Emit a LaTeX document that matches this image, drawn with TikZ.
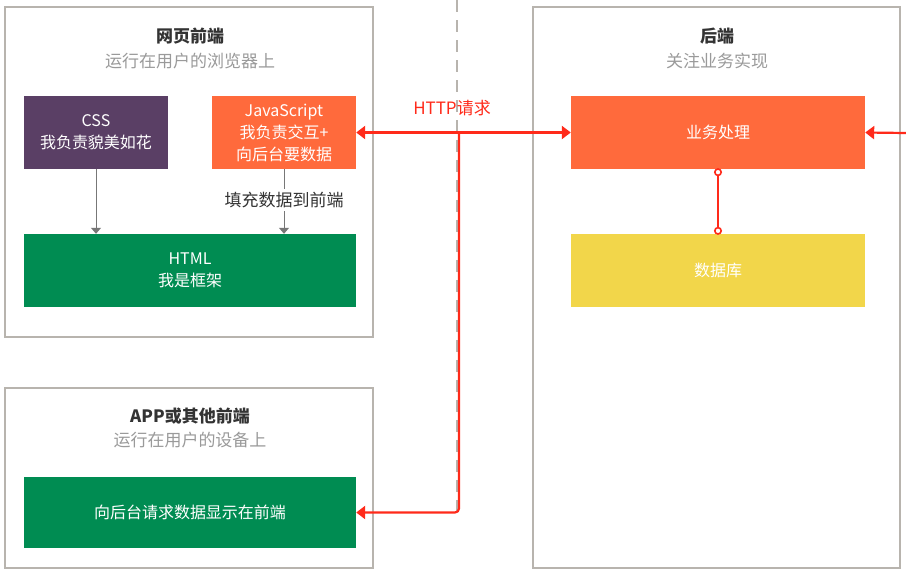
\documentclass[tikz,border=0pt]{standalone}
\usepackage{fontspec}
\setmainfont{Noto Sans CJK SC}
\usetikzlibrary{arrows.meta}
\definecolor{cssc}{HTML}{5A3F65}
\definecolor{orangec}{HTML}{FF6A3C}
\definecolor{greenc}{HTML}{008C52}
\definecolor{yellowc}{HTML}{F2D64A}
\definecolor{redc}{HTML}{FF2A1A}
\definecolor{framec}{HTML}{B8B4AE}
\definecolor{subc}{HTML}{9A9A9A}
\definecolor{titlec}{HTML}{333333}
\definecolor{arrc}{HTML}{777777}
\tikzset{
  frame/.style={draw=framec, line width=1.5pt, fill=white, inner sep=0pt},
  block/.style={inner sep=0pt, text=white, align=center, font=\fontsize{16}{22}\selectfont},
  ttl/.style={text=titlec, font=\fontsize{17}{20}\selectfont\bfseries, inner sep=0pt},
  subttl/.style={text=subc, font=\fontsize{17}{20}\selectfont, inner sep=0pt},
  grayarrow/.style={draw=arrc, line width=1pt, -{Triangle[width=10pt,length=6pt]}},
  redline/.style={draw=redc, line width=2.2pt},
  redtip/.style={-{Triangle[width=13pt,length=9pt]}},
}
\begin{document}
\begin{tikzpicture}[x=1pt,y=-1pt]
\useasboundingbox (0,0) rectangle (906,579);
% frames
\node[frame, minimum width=368pt, minimum height=330pt] (web) at (189,172) {};
\node[frame, minimum width=368pt, minimum height=180pt] (appf) at (189,478) {};
\node[frame, minimum width=367pt, minimum height=561pt] (back) at (716.5,287.5) {};
% titles
\node[ttl] (webt) at (190,36) {网页前端};
\node[subttl] (webs) at (190,61) {运行在用户的浏览器上};
\node[ttl] (appt) at (190,416) {APP或其他前端};
\node[subttl] (apps) at (190,440) {运行在用户的设备上};
\node[ttl] (backt) at (717,36) {后端};
\node[subttl] (backs) at (717,61) {关注业务实现};
% blocks
\node[block, fill=cssc, minimum width=144pt, minimum height=73pt] (css) at (96,132.5) {CSS\\我负责貌美如花};
\node[block, fill=orangec, minimum width=144pt, minimum height=73pt] (js) at (284,132.5) {JavaScript\\我负责交互+\\向后台要数据};
\node[block, fill=greenc, minimum width=332pt, minimum height=73pt] (html) at (190,270.5) {HTML\\我是框架};
\node[block, fill=greenc, minimum width=332pt, minimum height=71pt] (app) at (190,512.5) {向后台请求数据显示在前端};
\node[block, fill=orangec, minimum width=294pt, minimum height=73pt] (biz) at (718,132.5) {业务处理};
\node[block, fill=yellowc, minimum width=294pt, minimum height=73pt] (db) at (718,270.5) {数据库};
% gray arrows
\draw[grayarrow] (css.south) -- (css.south |- html.north);
\node[text=titlec, font=\fontsize{17}{20}\selectfont, fill=white, inner sep=0pt] (fill) at (284,200) {填充数据到前端};
\draw[draw=arrc, line width=1pt] (js.south) -- ([yshift=3pt]fill.north);
\draw[grayarrow] ([yshift=-3pt]fill.south) -- (js.south |- html.north);
% dashed divider
\coordinate (dtop) at (457,0);
\coordinate (dbot) at (457,512);
\draw[draw=framec, line width=1.2pt, dash pattern=on 12pt off 8pt] (dtop) -- (dbot);
% HTTP
\coordinate (jn) at (459,133);
\coordinate (rt) at (906,133);
\draw[redline, {Triangle[width=13pt,length=9pt]}-{Triangle[width=13pt,length=9pt]}] (js.east) -- (biz.west);
\node[text=redc, font=\fontsize{17}{20}\selectfont, inner sep=0pt] (http) at (452,108) {HTTP请求};
\draw[redline, redtip, rounded corners=4pt] (jn) |- (app.east);
\draw[redline, redtip] (rt) -- (biz.east);
\draw[redline, {Circle[open,fill=white,length=8pt,width=8pt,line width=1.6pt]}-{Circle[open,fill=white,length=8pt,width=8pt,line width=1.6pt]}] ([yshift=1pt]biz.south) -- ([yshift=-1pt]db.north);
\end{tikzpicture}
\end{document}
